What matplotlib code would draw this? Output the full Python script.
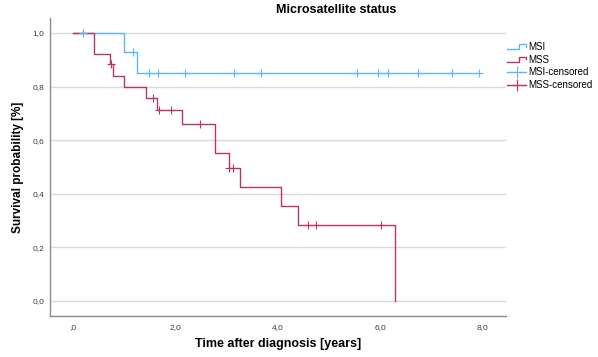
import numpy as np
import matplotlib
matplotlib.use("Agg")
import matplotlib.pyplot as plt
from matplotlib.lines import Line2D
from matplotlib.legend_handler import HandlerBase

plt.rcParams["font.family"] = ["Liberation Sans", "DejaVu Sans"]

# Kaplan-Meier steps
msi_times = [0.0, 1.00, 1.24]
msi_surv = [1.0, 0.929, 0.851]
msi_last = 7.93
msi_cens = [0.19, 1.165, 1.48, 1.66, 2.19, 3.14, 3.66, 5.54, 5.95, 6.15, 6.73, 7.39, 7.93]

mss_times = [0.0, 0.40, 0.73, 0.77, 1.00, 1.43, 1.63, 2.13, 2.77, 3.04, 3.26, 4.05, 4.40, 6.28]
mss_surv = [1.0, 0.923, 0.883, 0.84, 0.80, 0.758, 0.712, 0.66, 0.552, 0.496, 0.425, 0.355, 0.284, 0.0]
mss_cens = [0.75, 1.57, 1.68, 1.91, 2.48, 3.04, 3.13, 4.58, 4.74, 6.02]

x_ticks = [0, 2, 4, 6, 8]
x_labels = [",0", "2,0", "4,0", "6,0", "8,0"]
y_ticks = [0.0, 0.2, 0.4, 0.6, 0.8, 1.0]
y_labels = ["0,0", "0,2", "0,4", "0,6", "0,8", "1,0"]

c_msi = "#5cb8f2"
c_mss = "#b8336a"


def surv_at(times, surv, t):
    # value of the step function at time t (right-continuous)
    idx = np.searchsorted(times, t, side="right") - 1
    return np.array(surv)[idx]


class StepHandler(HandlerBase):
    def create_artists(self, legend, orig_handle, xdescent, ydescent,
                       width, height, fontsize, trans):
        lo = height * 0.15
        hi = height * 0.85
        xs = [0, width * 0.62, width * 0.62, width * 0.97, width * 0.97]
        ys = [lo, lo, hi, hi, lo + height * 0.35]
        ln = Line2D(xs, ys, color=orig_handle.get_color(), lw=1.0, transform=trans)
        return [ln]


fig = plt.figure(figsize=(5.98, 3.57), dpi=100)
ax = fig.add_axes([50 / 598, 1 - 316 / 357, 456 / 598, 298 / 357])

# step curves
msi_x = msi_times + [msi_last]
msi_y = msi_surv + [msi_surv[-1]]
ax.step(msi_x, msi_y, where="post", color=c_msi, lw=1.0, zorder=3)
ax.step(mss_times, mss_surv, where="post", color=c_mss, lw=1.0, zorder=3)

# censor marks
ax.plot(msi_cens, surv_at(msi_times, msi_surv, msi_cens), ls="none", marker="+",
        ms=6, mew=0.8, color=c_msi, zorder=4)
ax.plot(mss_cens, surv_at(mss_times, mss_surv, mss_cens), ls="none", marker="+",
        ms=6, mew=0.8, color=c_mss, zorder=4)

ax.set_xlim(-0.45, 8.45)
ax.set_ylim(-0.056, 1.056)
ax.set_xticks(x_ticks)
ax.set_xticklabels(x_labels)
ax.set_yticks(y_ticks)
ax.set_yticklabels(y_labels)
ax.tick_params(length=0, labelsize=6, colors="#3a3a3a")
ax.tick_params(axis="x", pad=6)
ax.tick_params(axis="y", pad=4)

ax.yaxis.grid(True, color="#d9d9d9", lw=1.0)
ax.set_axisbelow(True)
for s in ["top", "right"]:
    ax.spines[s].set_visible(False)
for s in ["left", "bottom"]:
    ax.spines[s].set_color("#8c8c8c")
    ax.spines[s].set_linewidth(1.0)

ax.set_xlabel("Time after diagnosis [years]", fontsize=9, fontweight="bold")
ax.xaxis.set_label_coords(0.5, -0.075)
ax.set_ylabel("Survival probability [%]", fontsize=8.5, fontweight="bold")
ax.yaxis.set_label_coords(-0.058, 0.5)

fig.text(336 / 598, 1 - 10 / 357, "Microsatellite status", ha="center", va="center",
         fontsize=9, fontweight="bold")

h_msi = Line2D([], [], color=c_msi)
h_mss = Line2D([], [], color=c_mss)
h_msi_c = Line2D([], [], color=c_msi, lw=1.0, marker="+", ms=8, mew=0.8)
h_mss_c = Line2D([], [], color=c_mss, lw=1.0, marker="+", ms=8, mew=0.8)
fig.legend([h_msi, h_mss, h_msi_c, h_mss_c],
           ["MSI", "MSS", "MSI-censored", "MSS-censored"],
           handler_map={h_msi: StepHandler(), h_mss: StepHandler()},
           loc="upper left", bbox_to_anchor=(507 / 598, 1 - 42 / 357),
           frameon=False, fontsize=7, borderpad=0, borderaxespad=0,
           labelspacing=0.28, handlelength=2.0, handletextpad=0.2)

fig.savefig("out.png", dpi=100)
